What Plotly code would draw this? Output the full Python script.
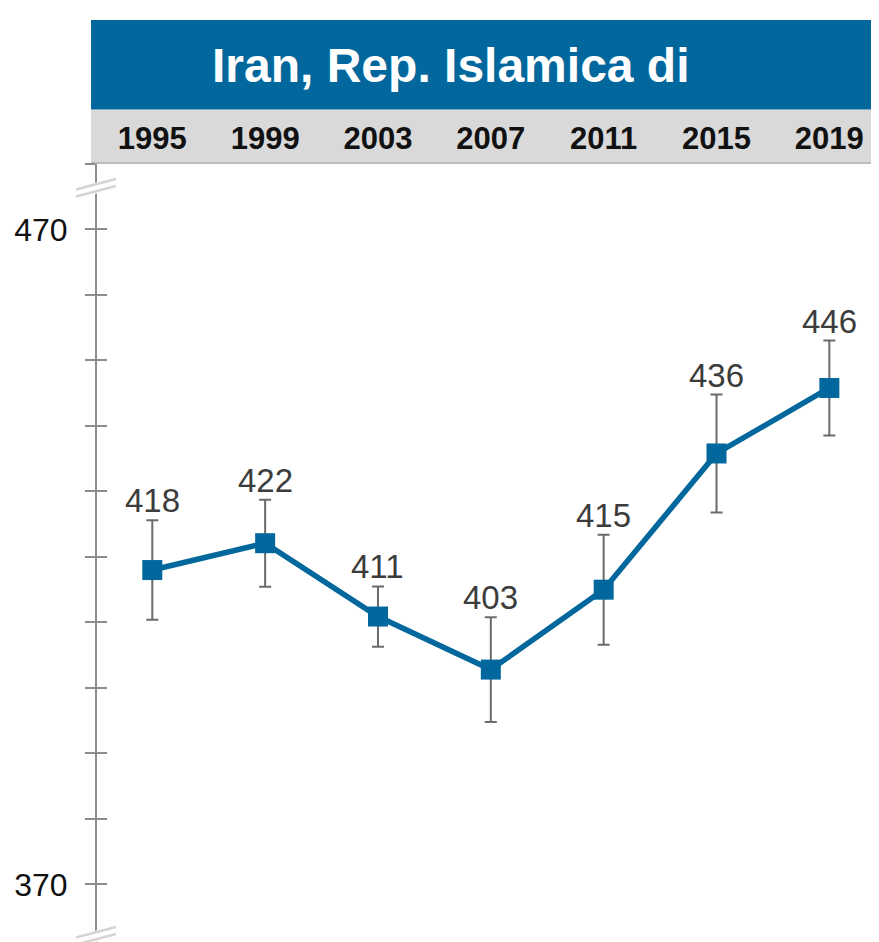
import plotly.graph_objects as go

years = ["1995", "1999", "2003", "2007", "2011", "2015", "2019"]
scores = [418.0, 422.1, 410.9, 402.8, 415.0, 435.8, 445.8]
errors = [7.6, 6.65, 4.6, 8.0, 8.4, 9.0, 7.25]
labels = [f"{round(s):d}" for s in scores]
y_tickvals = list(range(370, 481, 10))
y_ticktext = ["370"] + [""] * 9 + ["470", ""]
title_text = "Iran, Rep. Islamica di"

BLUE = "#02679c"
FONT = "Liberation Sans, Arial, sans-serif"

OFF = 8  # default body margin of the html page
W, H = 879 - OFF, 942 - OFF
L, T = 97 - OFF, 164 - OFF
PW, PH = W - L, H - T
Y_TOP = 480.0
PX_PER_UNIT = 6.549
Y_BOTTOM = Y_TOP - PH / PX_PER_UNIT


def px_x(p):
    """page pixel x -> paper coordinate"""
    return (p - OFF - L) / PW


def px_y(p):
    """page pixel y -> paper coordinate"""
    return (H - (p - OFF)) / PH


fig = go.Figure()
fig.add_trace(go.Scatter(
    x=years, y=scores, mode="lines+markers",
    line=dict(color=BLUE, width=5.5),
    marker=dict(symbol="square", size=20, color=BLUE),
    error_y=dict(type="data", array=errors, visible=True,
                 color="#6b6b6b", thickness=2, width=6),
    hoverinfo="skip", showlegend=False,
))
# overlay axis carrying the inside half of the crossing ticks
fig.add_trace(go.Scatter(x=[], y=[], yaxis="y2", showlegend=False))

annotations = []
for i, (s, e, lab) in enumerate(zip(scores, errors, labels)):
    annotations.append(dict(
        x=i, y=s + e, xref="x", yref="y", text=lab, showarrow=False,
        yanchor="bottom", xanchor="center", yshift=-1,
        font=dict(family=FONT, size=33, color="#3c3c3c"),
    ))
annotations.append(dict(
    x=px_x(451), y=px_y(65), xref="paper", yref="paper", text=title_text,
    showarrow=False, xanchor="center", yanchor="middle",
    font=dict(family=FONT, size=48, color="white", weight="bold"),
))

shapes = [
    # blue title band
    dict(type="rect", xref="paper", yref="paper", x0=px_x(91), x1=px_x(890),
         y0=px_y(110), y1=px_y(20), fillcolor=BLUE, line_width=0, layer="below"),
    dict(type="line", xref="paper", yref="paper", x0=px_x(91), x1=px_x(890),
         y0=px_y(109.5), y1=px_y(109.5), line=dict(color="#7fa9c4", width=1), layer="below"),
    # grey year band
    dict(type="rect", xref="paper", yref="paper", x0=px_x(91), x1=px_x(890),
         y0=px_y(163), y1=px_y(110), fillcolor="#d9d9d9", line_width=0, layer="below"),
    dict(type="line", xref="paper", yref="paper", x0=px_x(91), x1=px_x(890),
         y0=px_y(163), y1=px_y(163), line=dict(color="#bdbdbd", width=2), layer="below"),
]

# axis break marks
for cy in (188, 936):
    shapes.append(dict(type="line", xref="paper", yref="paper",
                       x0=px_x(74), y0=px_y(cy + 6), x1=px_x(119), y1=px_y(cy - 6),
                       line=dict(color="white", width=11), layer="above"))
    for off in (-3.5, 3.5):
        shapes.append(dict(type="line", xref="paper", yref="paper",
                           x0=px_x(76), y0=px_y(cy + 5 + off), x1=px_x(116), y1=px_y(cy - 5.5 + off),
                           line=dict(color="#d4d4d4", width=2.5), layer="above"))

fig.update_layout(
    width=W, height=H,
    margin=dict(l=L, r=0, t=T, b=0, pad=0),
    paper_bgcolor="white", plot_bgcolor="white",
    font=dict(family=FONT),
    xaxis=dict(type="category", range=[-0.49, 6.44], side="top",
               showline=False, showgrid=False, zeroline=False, ticks="",
               tickfont=dict(family=FONT, size=31, color="#111111", weight="bold"),
               ticklabelstandoff=8),
    yaxis=dict(range=[Y_BOTTOM, Y_TOP], tickvals=y_tickvals, ticktext=y_ticktext,
               showline=True, linecolor="#8c8c8c", linewidth=2,
               ticks="outside", ticklen=10, tickwidth=2, tickcolor="#8c8c8c",
               showgrid=False, zeroline=False,
               tickfont=dict(family=FONT, size=32, color="#111111"),
               ticklabelstandoff=11),
    yaxis2=dict(range=[Y_BOTTOM, Y_TOP], overlaying="y", side="left", anchor="x",
                tickvals=y_tickvals, showticklabels=False,
                ticks="inside", ticklen=10, tickwidth=2, tickcolor="#8c8c8c",
                showline=False, showgrid=False, zeroline=False),
    annotations=annotations,
    shapes=shapes,
)

fig.write_html("out.html")
